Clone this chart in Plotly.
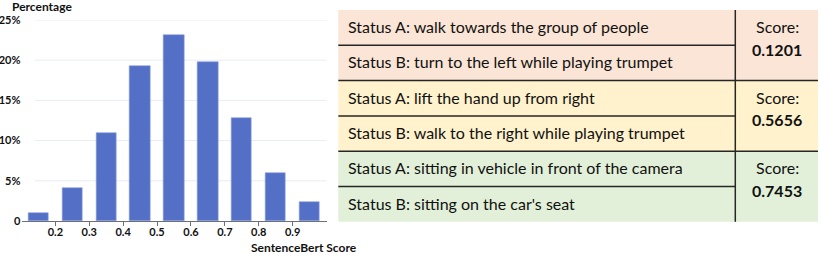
import plotly.graph_objects as go

# ---------------- data ----------------
bin_centers = [0.15, 0.25, 0.35, 0.45, 0.55, 0.65, 0.75, 0.85, 0.95]
percentages = [1.0, 4.1, 11.0, 19.3, 23.1, 19.8, 12.85, 5.97, 2.36]
x_tick_vals = [0.2, 0.3, 0.4, 0.5, 0.6, 0.7, 0.8, 0.9]
x_tick_text = ["0.2", "0.3", "0.4", "0.5", "0.6", "0.7", "0.8", "0.9"]
y_tick_vals = [0, 5, 10, 15, 20, 25]
y_tick_text = ["0", "5%", "10%", "15%", "20%", "25%"]

status_a = [
    "Status A: walk towards the group of people",
    "Status A: lift the hand up from right",
    "Status A: sitting in vehicle in front of the camera",
]
status_b = [
    "Status B: turn to the left while playing trumpet",
    "Status B: walk to the right while playing trumpet",
    "Status B: sitting on the car's seat",
]
scores = ["0.1201", "0.5656", "0.7453"]
group_colors = ["#FBE5D6", "#FFF2CC", "#E2F0D9"]

# ---------------- layout helpers ----------------
W, H = 822, 254
FONT = "Lato"


def px(x):
    return x / W


def py(y):
    return 1 - y / H


fig = go.Figure()
fig.add_trace(go.Bar(
    x=bin_centers, y=percentages, width=0.06,
    marker=dict(color="#5470C6", line=dict(width=0.6, color="#8FA2E0")),
    hoverinfo="skip",
))

shapes = []
# gridlines (ECharts-style, starting slightly right of axis start)
for v in y_tick_vals[1:]:
    shapes.append(dict(type="line", xref="x domain", yref="y", x0=0.044, x1=1,
                       y0=v, y1=v, line=dict(color="#E8ECF4", width=1), layer="below"))

# table
top, row_h = 10, 35.3
left, mid, right = 338.3, 735.3, 818
for g in range(3):
    y0 = top + 2 * g * row_h
    y1 = y0 + 2 * row_h
    shapes.append(dict(type="rect", xref="paper", yref="paper",
                       x0=px(left), x1=px(right), y0=py(y1), y1=py(y0),
                       fillcolor=group_colors[g], line=dict(width=0), layer="below"))
    # inner line between A and B (left column only)
    ym = y0 + row_h
    shapes.append(dict(type="line", xref="paper", yref="paper",
                       x0=px(left), x1=px(mid), y0=py(ym), y1=py(ym),
                       line=dict(color="#262626", width=1.5)))
    if g > 0:
        shapes.append(dict(type="line", xref="paper", yref="paper",
                           x0=px(left), x1=px(right), y0=py(y0), y1=py(y0),
                           line=dict(color="#262626", width=1.5)))
shapes.append(dict(type="line", xref="paper", yref="paper",
                   x0=px(mid), x1=px(mid), y0=py(top), y1=py(top + 6 * row_h),
                   line=dict(color="#262626", width=1.5)))

annotations = []
for g in range(3):
    y0 = top + 2 * g * row_h
    annotations.append(dict(xref="paper", yref="paper", x=px(346), y=py(y0 + row_h / 2 - 1),
                            text=status_a[g], showarrow=False, xanchor="left", yanchor="middle",
                            font=dict(family=FONT, size=16, color="#111111")))
    annotations.append(dict(xref="paper", yref="paper", x=px(346), y=py(y0 + 1.5 * row_h - 1),
                            text=status_b[g], showarrow=False, xanchor="left", yanchor="middle",
                            font=dict(family=FONT, size=16, color="#111111")))
    annotations.append(dict(xref="paper", yref="paper", x=px(777), y=py(y0 + 16.7),
                            text="Score:", showarrow=False, xanchor="center", yanchor="middle",
                            font=dict(family=FONT, size=16, color="#111111")))
    annotations.append(dict(xref="paper", yref="paper", x=px(777), y=py(y0 + 39.3),
                            text="<b>" + scores[g] + "</b>", showarrow=False, xanchor="center",
                            yanchor="middle", font=dict(family=FONT, size=16, color="#111111")))

annotations.append(dict(xref="paper", yref="paper", x=px(42), y=py(7), text="<b>Percentage</b>",
                        showarrow=False, xanchor="center", yanchor="middle",
                        font=dict(family=FONT, size=12, color="#111111")))
annotations.append(dict(xref="paper", yref="paper", x=px(304), y=py(247),
                        text="<b>SentenceBert Score</b>", showarrow=False, xanchor="center",
                        yanchor="middle", font=dict(family=FONT, size=12, color="#111111")))

fig.update_layout(
    width=W, height=H, margin=dict(l=0, r=0, t=0, b=0, autoexpand=False),
    paper_bgcolor="white", plot_bgcolor="white",
    showlegend=False, bargap=0,
    shapes=shapes, annotations=annotations,
    font=dict(family=FONT, size=11, color="#111111"),
    xaxis=dict(domain=[px(21.5), px(326.5)], range=[0.1, 1.0], automargin=False,
               tickvals=x_tick_vals, ticktext=["<b>" + t + "</b>" for t in x_tick_text],
               showgrid=False, zeroline=False, showline=True, linecolor="#6E7079", linewidth=1,
               ticks="outside", ticklen=4, tickcolor="#6E7079", ticklabelstandoff=-3,
               tickfont=dict(family=FONT, size=11, color="#111111")),
    yaxis=dict(domain=[1 - 221 / H, 1 - 20 / H], range=[0, 25], automargin=False,
               tickvals=y_tick_vals, ticktext=["<b>" + t + "</b>" for t in y_tick_text],
               showgrid=False, zeroline=False, showline=False, ticks="",
               ticklabelstandoff=0,
               tickfont=dict(family=FONT, size=11, color="#111111")),
)

fig.write_html("out.html", config={"displayModeBar": False},
               post_script="document.body.style.margin='0px';")
